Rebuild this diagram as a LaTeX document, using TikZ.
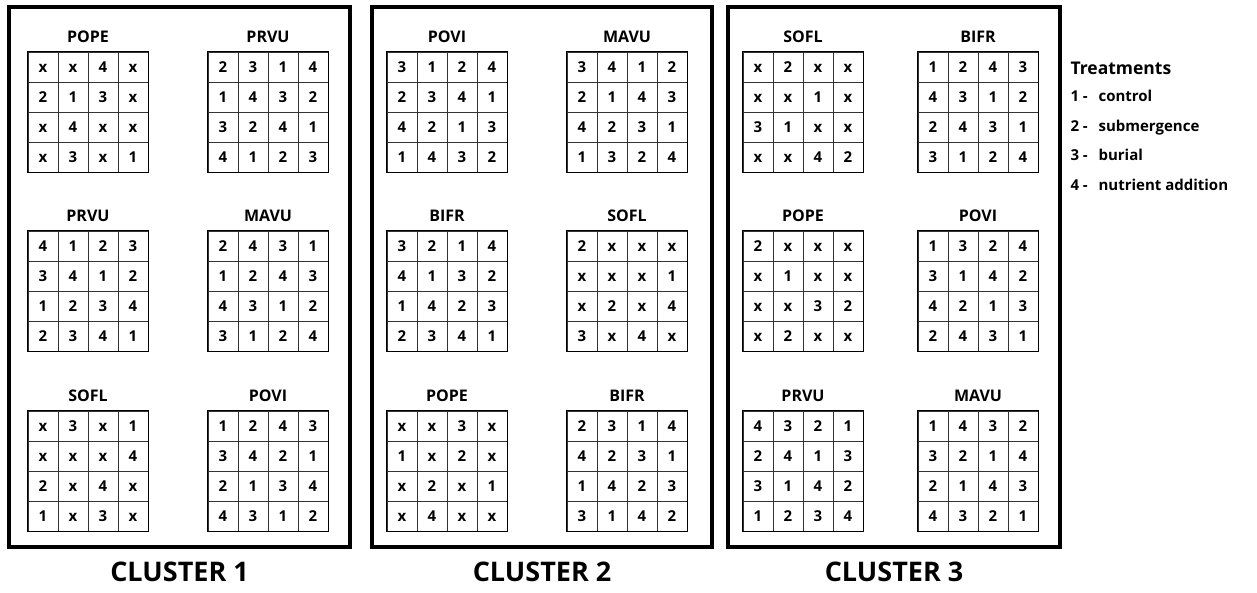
\documentclass[tikz,border=0pt]{standalone}
\usepackage{fontspec}
\setmainfont{Open Sans}
\usetikzlibrary{positioning}

\begin{document}
\begin{tikzpicture}[x=1pt,y=-1pt,
  cell/.style={draw=black!80,line width=0.7pt,minimum size=30pt,inner sep=0pt,
    text height=10.5pt,text depth=0pt,font=\bfseries\fontsize{15}{17}\selectfont},
  rim/.style={line width=1.5pt},
  plottitle/.style={font=\bfseries\fontsize{16}{18}\selectfont},
  clusterbox/.style={draw,line width=3.5pt,inner sep=0pt},
  clusterlabel/.style={font=\bfseries\fontsize{27}{32}\selectfont},
  legtitle/.style={font=\bfseries\fontsize{17.5}{20}\selectfont,anchor=west},
  legitem/.style={font=\bfseries\fontsize{15}{18}\selectfont,anchor=west,
    text height=11pt,text depth=3.5pt}]

  \useasboundingbox (0,0) rectangle (1257,592);

  % cluster frames and their captions
  \foreach \nm/\lx/\rx [count=\num] in {clA/9/350, clB/372/712, clC/728/1060}
    {\node[clusterbox,minimum width=\rx-\lx,minimum height=540] (\nm) at ({(\lx+\rx)/2},277) {};
     \node[clusterlabel,below=10pt of \nm] (\nm-lab) {CLUSTER \num};}

  % plots: name / left / top / species / cells row by row
  \foreach \nm/\gx/\gy/\ttl/\vals in {
    pA1/28/52/POPE/{x,x,4,x,2,1,3,x,x,4,x,x,x,3,x,1},
    pA2/208/52/PRVU/{2,3,1,4,1,4,3,2,3,2,4,1,4,1,2,3},
    pA3/28/231/PRVU/{4,1,2,3,3,4,1,2,1,2,3,4,2,3,4,1},
    pA4/208/231/MAVU/{2,4,3,1,1,2,4,3,4,3,1,2,3,1,2,4},
    pA5/28/411/SOFL/{x,3,x,1,x,x,x,4,2,x,4,x,1,x,3,x},
    pA6/208/411/POVI/{1,2,4,3,3,4,2,1,2,1,3,4,4,3,1,2},
    pB1/387/52/POVI/{3,1,2,4,2,3,4,1,4,2,1,3,1,4,3,2},
    pB2/567/52/MAVU/{3,4,1,2,2,1,4,3,4,2,3,1,1,3,2,4},
    pB3/387/231/BIFR/{3,2,1,4,4,1,3,2,1,4,2,3,2,3,4,1},
    pB4/567/231/SOFL/{2,x,x,x,x,x,x,1,x,2,x,4,3,x,4,x},
    pB5/387/411/POPE/{x,x,3,x,1,x,2,x,x,2,x,1,x,4,x,x},
    pB6/567/411/BIFR/{2,3,1,4,4,2,3,1,1,4,2,3,3,1,4,2},
    pC1/743/52/SOFL/{x,2,x,x,x,x,1,x,3,1,x,x,x,x,4,2},
    pC2/918/52/BIFR/{1,2,4,3,4,3,1,2,2,4,3,1,3,1,2,4},
    pC3/743/231/POPE/{2,x,x,x,x,1,x,x,x,x,3,2,x,2,x,x},
    pC4/918/231/POVI/{1,3,2,4,3,1,4,2,4,2,1,3,2,4,3,1},
    pC5/743/411/PRVU/{4,3,2,1,2,4,1,3,3,1,4,2,1,2,3,4},
    pC6/918/411/MAVU/{1,4,3,2,3,2,1,4,2,1,4,3,4,3,2,1}}
    {\node[plottitle] (\nm-t) at (\gx+60,\gy-15) {\ttl};
     \foreach \val [count=\i from 0] in \vals
       {\pgfmathtruncatemacro\row{\i/4}
        \pgfmathtruncatemacro\col{mod(\i,4)}
        \node[cell] (\nm-\i) at (\gx+15+30*\col,\gy+15+30*\row) {\val};}
     \draw[rim] (\nm-0.north west) rectangle (\nm-15.south east);}

  % legend
  \node[legtitle] (legT) at (1067,68) {Treatments};
  \foreach \m/\ly/\s in {1/98/control, 2/128/submergence, 3/157/burial, 4/187/nutrient addition}
    {\node[legitem] (leg\m) at (1067,\ly) {\m{} -};
     \node[legitem] (leg\m-txt) at (1095,\ly) {\s};}
\end{tikzpicture}
\end{document}
